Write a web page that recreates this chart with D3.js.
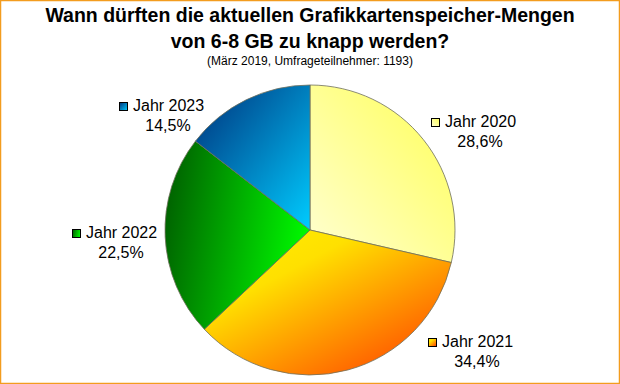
<!DOCTYPE html>
<html>
<head>
<meta charset="utf-8">
<script src="https://cdn.jsdelivr.net/npm/d3@7"></script>
<style>
  html, body { margin: 0; padding: 0; background: #fff; }
  svg { display: block; }
  text { font-family: "Liberation Sans", Arial, sans-serif; }
</style>
</head>
<body>
<svg id="chart" width="620" height="384"></svg>
<script>
const categories = ["Jahr 2020", "Jahr 2021", "Jahr 2022", "Jahr 2023"];
const values = [28.6, 34.4, 22.5, 14.5];
const valueLabels = ["28,6%", "34,4%", "22,5%", "14,5%"];
const titleLines = ["Wann dürften die aktuellen Grafikkartenspeicher-Mengen", "von 6-8 GB zu knapp werden?"];
const subtitle = "(März 2019, Umfrageteilnehmer: 1193)";

// gradient styling per slice: stops [offset, color], direction [x1, y1, x2, y2]
const gradStops = [
  [[0, "#ffffd4"], [1, "#ffff55"]],
  [[0, "#fff000"], [0.3, "#ffe000"], [1, "#ff3c00"]],
  [[0, "#006400"], [1, "#00ff00"]],
  [[0, "#00307a"], [1, "#00ccff"]]
];
const gradDir = [[0, 1, 1, 0], [0.05, 0, 0.95, 1], [0, 0.4, 1, 0.6], [0, 0, 1, 1]];
// label anchor (left edge of marker, baseline of first line)
const labelPos = [[431, 127], [428, 347], [72, 238], [119, 111]];

const svg = d3.select("#chart");
const W = 620, H = 384;
const cx = 310, cy = 230, R = 145;

// frame
svg.append("rect").attr("x", 0.5).attr("y", 0.5).attr("width", W - 1).attr("height", H - 1)
  .attr("fill", "#fff").attr("stroke", "#f39c1e").attr("stroke-width", 1.5);

const defs = svg.append("defs");
gradStops.forEach((stops, i) => {
  const d = gradDir[i];
  const lg = defs.append("linearGradient").attr("id", "grad" + i)
    .attr("x1", d[0]).attr("y1", d[1]).attr("x2", d[2]).attr("y2", d[3]);
  stops.forEach(s => lg.append("stop").attr("offset", s[0]).attr("stop-color", s[1]));
});

// title
const title = svg.append("text").attr("text-anchor", "middle")
  .attr("font-weight", "bold").attr("font-size", 19.5).attr("fill", "#000");
titleLines.forEach((t, i) => {
  title.append("tspan").attr("x", W / 2).attr("y", 22 + i * 25.5).text(t);
});
svg.append("text").attr("x", W / 2).attr("y", 65).attr("text-anchor", "middle")
  .attr("font-size", 12).attr("fill", "#000").text(subtitle);

// pie
const pie = d3.pie().sort(null).value(d => d).startAngle(0).endAngle(2 * Math.PI);
const arc = d3.arc().innerRadius(0).outerRadius(R);
const arcs = pie(values);

const g = svg.append("g").attr("transform", `translate(${cx},${cy})`);
g.selectAll("path").data(arcs).enter().append("path")
  .attr("d", arc)
  .attr("fill", (d, i) => `url(#grad${i})`)
  .attr("stroke", "#6e6e5a")
  .attr("stroke-width", 0.8)
  .attr("stroke-linejoin", "round");

// labels
const lab = svg.selectAll("g.lab").data(categories).enter().append("g").attr("class", "lab");
lab.append("rect")
  .attr("x", (d, i) => labelPos[i][0] + 0.5)
  .attr("y", (d, i) => labelPos[i][1] - 8.5)
  .attr("width", 8).attr("height", 8)
  .attr("fill", (d, i) => `url(#grad${i})`)
  .attr("stroke", "#000").attr("stroke-width", 1);
lab.append("text")
  .attr("x", (d, i) => labelPos[i][0] + 14)
  .attr("y", (d, i) => labelPos[i][1])
  .attr("font-size", 16).attr("fill", "#000")
  .text(d => d);
lab.append("text")
  .attr("x", (d, i) => labelPos[i][0] + 14 + 35)
  .attr("y", (d, i) => labelPos[i][1] + 19.5)
  .attr("text-anchor", "middle")
  .attr("font-size", 16).attr("fill", "#000")
  .text((d, i) => valueLabels[i]);
</script>
</body>
</html>
